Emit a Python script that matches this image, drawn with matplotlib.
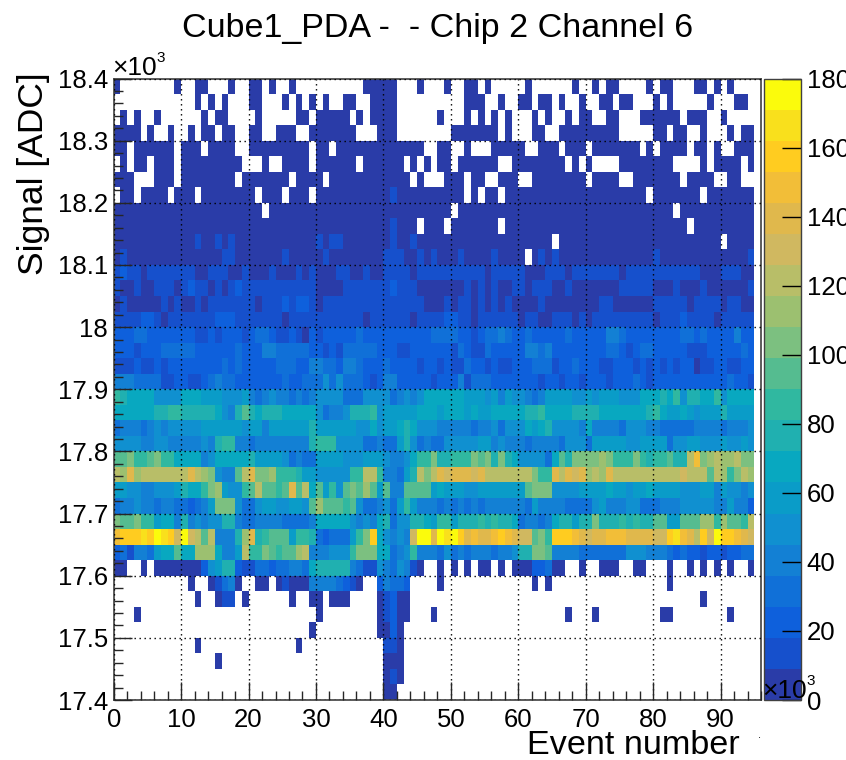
import matplotlib as mpl
mpl.use("Agg")
import matplotlib.pyplot as plt
import numpy as np
from matplotlib.colors import BoundaryNorm, ListedColormap
from matplotlib.ticker import MultipleLocator

plt.rcParams['font.family'] = ['Liberation Sans', 'DejaVu Sans']

# colour band of every cell, top row (18375-18400) first, 95 events per row
# '.' = empty, 0-9 a-j = band number (one band is 9 x 10^3 counts)
rows = [
    "0........0 ..00...0.. 00.0..0... .......000 00...0...0 ..00.0.... .0......0. .0.00....0 .00...00.0 .0...",
    ".......... ..0.0.0... 00...0.0.0 .0..00..00 00........ ..000..0.. 00.00.0..0 ..00.00... 0.0.....0. ..00.",
    ".0.0..0... ...0.00... .0.....00. 00000.0.00 00......0. ..0.0.0.0. ..0.0..0.0 0..00...00 0000.000.. 0....",
    "0000.0..0. .0.00.00.. 00..000..0 000000...0 00........ 0000000.0. ..00..0000 00000..... 00.00..0.. .0.00",
    "00.000000. 000.0000.. 000000000. 00.0000000 000000..00 ..0...0000 0..000.000 .0000000.0 .0000.00.0 ..000",
    ".0.00.000. 000000000. ..0..0000. 000000.000 000.0.0.00 .000000..0 0000000.0. 0....00000 000....0.0 000.0",
    "000...000. 00000000.0 000000.000 0.00000000 0000.0...0 00.00..000 ..00000000 .0000..000 0000.0000. .00..",
    ".00.0000.0 00.0000000 0.000.000. 0000000000 0100000000 00.0.00.00 0000000000 000000000. 0000000.00 00000",
    "0000000000 0000000000 00.0000000 0000000000 0000000000 .000000000 0000000000 0000000000 000.000000 00000",
    "0000000000 0000000000 0000000000 0000000000 01000.000. 0000000.00 0000000000 0000000000 00000.0000 00000",
    "0000000000 0010010100 0000000000 1011000000 0100100000 0000000000 00000.0000 0000000000 0000000000 .0000",
    "0100000000 0000001100 0000010000 0100000000 1110010100 0100001000 0.01010000 0000000000 1000000000 00001",
    "1211011111 1100111001 0001000101 0001100100 1111011111 1111101111 1000111011 1111101111 1111111000 11100",
    "1001001110 1211010121 1111111111 0000111111 1211100000 0010101001 1011100100 0000011111 0001000100 00001",
    "0100000101 0010111111 1011121221 0111111111 1111110001 0110101010 0001000000 0011000000 1111101111 01100",
    "1111221011 1111122211 1111101111 1111111011 1111011112 2110111111 0110011101 0111111111 0111211110 11111",
    "2223322222 2211212221 2332112102 1222223222 2222222333 3221233432 2322222322 2224432222 2222332322 22422",
    "2221222333 3322222232 2244333332 2121333332 2211222222 1321132222 2443422222 2223321233 2222211122 22232",
    "1112112122 2222223232 2222333224 4332443222 3222212212 1132212112 2233312232 2211222121 2121220112 21122",
    "4443333112 2112343322 2222232233 3535333212 4422222122 2413332222 2221221221 2221222321 2222222222 23221",
    "9877775555 7776665556 4345443434 5555333555 5345457777 7766656465 5434666655 6566655577 7879588779 57777",
    "7777778899 888887548a 8788877777 5344588895 6666677767 7767667777 7889777788 8877777778 9766765666 86666",
    "3444345455 5556666665 6646666668 6666665575 6678755544 4443445355 5767855554 7444435554 4333334444 34445",
    "5555445544 4445489944 3444444448 9995555334 3368534335 5555664544 4344443555 3666665566 6635566555 65565",
    "aab99ab997 7774577777 8666653433 6666555666 5445799b88 999bab8b87 555537a8bb bbcb999b98 99a88dgbcd ccdbb",
    "dcfcdddddd dfdcb544ad fbbc999866 5555599dd9 44368dbdfe fffefddddd ddb99fdfef cdcfdddddd ddddedddad c9bdc",
    "6655445556 8779bc6559 adaa9afad7 a695abaca6 a44aaaa676 6655666666 6abbb55556 6667665667 6666555664 65545",
    "3445443443 32346bbb53 356655665a caaa9a5334 5369644434 3434344444 4364444333 3564445533 3444555554 46442",
    "baab996774 8454558843 3444433334 7777754547 8355887699 6888989887 3443478868 8b88898988 aa66aaacc9 caa9d",
    "ghhhihjihe jedad4448c f89aaa6998 3233369bh7 5454ejjfji jhfgffghgf eeab9hhhgf effgggffff eehigfdhej hhgfe",
    "231443677a 77ccc7446d 99ba9aacd4 445559bbb7 7345944435 3434443445 88bba44443 3333335554 4432322122 12233",
    "00..0.0000 0002568821 1332334437 8888843115 435410..0. 0.0.00.0.0 0022300..0 ..000..00. ..0..0.0.0 .0..0",
    ".......... .0..01340. .00.010004 4443210..2 4332....0. .......... ..0.0..... .......... ..0....... .....",
    ".......... ..0..011.0 ......0..0 0.000....0 1200...... .......... .......... .......... .......0.. .....",
    "...0...... .......... .......... 0........0 1200...0.. .......... .......0.. .0........ .00....... .0...",
    ".......... .......... .........0 .........0 020....... .......... .......... .......... .......... .....",
    ".......... ..0....... .......0.. .......... 110....... .......... .......... .......... .......... .....",
    ".......... .....0.... .......... .......... 000....... .......... .......... .......... .......... .....",
    ".......... .......... .......... .......... 010....... .......... .......... .......... .......... .....",
    ".......... .......... .......... .......... 00........ .......... .......... .......... .......... .....",
]

band_colors = [
    "#2A3CA8", "#1650CC", "#0E60DC", "#1070D8", "#1380D4", "#1090D0", "#0A9CC8",
    "#08A8C0", "#20B0B0", "#30B8A0", "#55BC90", "#7CC080", "#9CC070", "#B8BE68",
    "#D0B860", "#E0B84C", "#F2BE38", "#FFCC20", "#F9E01C", "#FBFB0C",
]

band_width = 9
band_edges = np.arange(0, 181, band_width)
x_edges = np.arange(0, 96)
y_edges = np.arange(17400, 18401, 25)
z_ticks = np.arange(0, 181, 20)
y_ticks = np.arange(17400, 18401, 100)
y_labels = ["17.4", "17.5", "17.6", "17.7", "17.8", "17.9", "18", "18.1", "18.2", "18.3", "18.4"]

digits = "0123456789abcdefghij"
counts = np.full((len(rows), 95), np.nan)
for i, row in enumerate(rows):
    for j, c in enumerate(row.replace(" ", "")):
        if c != ".":
            counts[i, j] = digits.index(c) * band_width + band_width / 2
counts = np.ma.masked_invalid(counts[::-1])

W, H = 846, 760
fig = plt.figure(figsize=(W / 100, H / 100), dpi=100)
ax = fig.add_axes([113.7 / W, 1 - 700 / H, (761 - 113.7) / W, (700 - 78.5) / H])
cax = fig.add_axes([764.3 / W, 1 - 700 / H, (801 - 764.3) / W, (700 - 78.5) / H])

cmap = ListedColormap(band_colors)
norm = BoundaryNorm(band_edges, cmap.N)
mesh = ax.pcolormesh(x_edges, y_edges, counts, cmap=cmap, norm=norm, zorder=1)

ax.set_xlim(0, 96)
ax.set_ylim(17400, 18400)
ax.xaxis.set_major_locator(MultipleLocator(10))
ax.xaxis.set_minor_locator(MultipleLocator(2))
ax.set_yticks(y_ticks, y_labels)
ax.yaxis.set_minor_locator(MultipleLocator(20))
ax.tick_params(which='major', direction='in', length=13, width=1, labelsize=18.5, pad=4, color='0.15')
ax.tick_params(which='minor', direction='in', length=6.5, width=1, color='0.15')
ax.tick_params(axis='x', which='major', pad=6)
ax.grid(True, which='major', color='black', linestyle=(0, (1, 2.6)), linewidth=1)
ax.set_axisbelow(False)
for s in ax.spines.values():
    s.set_linewidth(1.2)
    s.set_color('0.25')

cb = fig.colorbar(mesh, cax=cax, ticks=z_ticks, spacing='proportional', drawedges=False)
cb.minorticks_off()
cax.tick_params(direction='in', length=13.5, width=1, labelsize=18.5, pad=4, color='black')
cb.outline.set_linewidth(1)
cb.outline.set_edgecolor('0.25')

fig.text(438 / W, 1 - 29 / H, "Cube1_PDA -  - Chip 2 Channel 6", fontsize=24.5, ha='center', va='center')
fig.text(33 / W, 1 - 72 / H, "Signal [ADC]", fontsize=25.5, rotation=90, ha='center', va='top')
fig.text(740 / W, 1 - 746 / H, "Event number", fontsize=24.6, ha='right', va='center')
fig.text(112 / W, 1 - 75 / H, "×10", fontsize=19, ha='left', va='baseline')
fig.text(156 / W, 1 - 62 / H, "3", fontsize=11, ha='left', va='baseline')
fig.text(762 / W, 1 - 698 / H, "×10", fontsize=19, ha='left', va='baseline')
fig.text(806 / W, 1 - 685 / H, "3", fontsize=11, ha='left', va='baseline')
fig.text(759 / W, 1 - 738 / H, ".", fontsize=8, ha='center', va='baseline')

fig.savefig("out.png", dpi=100)
